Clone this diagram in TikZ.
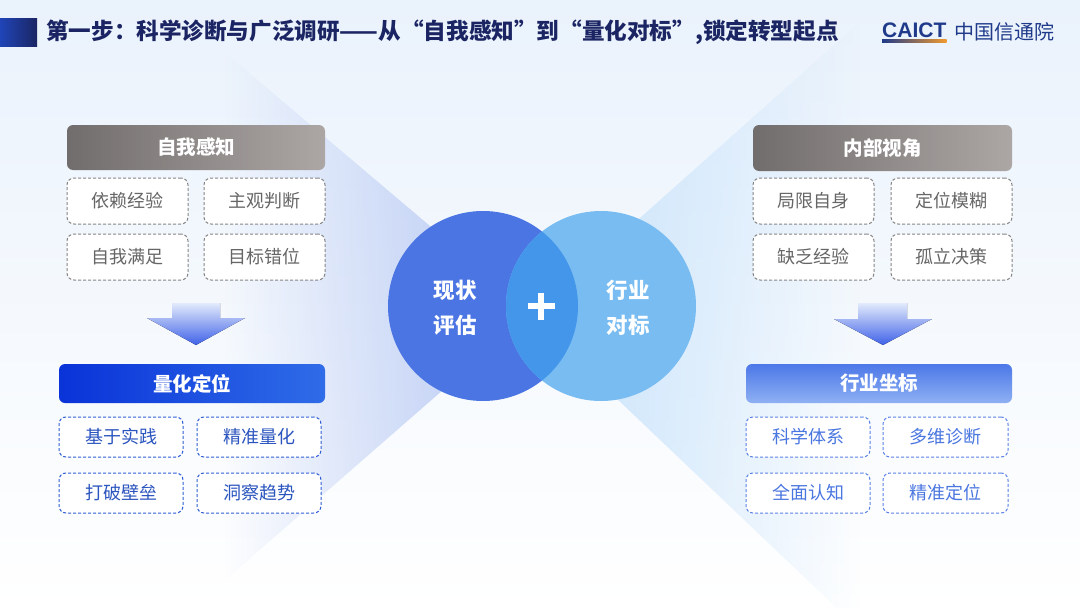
\documentclass[tikz,border=0pt]{standalone}
\usepackage{fontspec}
\setmainfont{Noto Sans CJK SC}
\newfontfamily\latinf{Liberation Sans}
\usetikzlibrary{fadings}
\definecolor{navy}{HTML}{1B2563}
\definecolor{hdrblue}{HTML}{2045B8}
\definecolor{logoblue}{HTML}{1F3A8A}
\definecolor{logoorange}{HTML}{F29A2E}
\definecolor{bgtop}{HTML}{EAF2FC}
\definecolor{grayL}{HTML}{716D6C}
\definecolor{grayR}{HTML}{ACA7A5}
\definecolor{grayline}{HTML}{858585}
\definecolor{graytext}{HTML}{666666}
\definecolor{blueL}{HTML}{0A33D8}
\definecolor{blueR}{HTML}{2F6CE8}
\definecolor{blueline}{HTML}{2F5ED4}
\definecolor{bluetext}{HTML}{2A54BE}
\definecolor{lblueT}{HTML}{4C78E8}
\definecolor{lblueB}{HTML}{8EB0F3}
\definecolor{lblueline}{HTML}{5C82E6}
\definecolor{lbluetext}{HTML}{4A76E0}
\definecolor{circL}{HTML}{4A75E3}
\definecolor{circR}{HTML}{78BCF2}
\definecolor{circM}{HTML}{4396EA}
\definecolor{beamL}{HTML}{B5C7F3}
\definecolor{beamR}{HTML}{C6E2FB}
\definecolor{arrT}{HTML}{E2EAFB}
\definecolor{arrB}{HTML}{3F62E8}
\tikzfading[name=fadeleft, left color=transparent!100, right color=transparent!0]
\tikzfading[name=faderight, left color=transparent!0, right color=transparent!100]
\begin{document}
\begin{tikzpicture}[x=1pt,y=-1pt,
  hdr/.style={rounded corners=6pt, minimum height=#1, inner sep=0pt, text=white,
    font=\fontsize{19.5}{19.5}\selectfont\bfseries},
  graybox/.style={draw=grayline, dash pattern=on 3pt off 2pt, line width=1pt,
    fill=white, rounded corners=7pt, minimum width=121pt, minimum height=46pt,
    inner sep=0pt, text=graytext, font=\fontsize{18}{18}\selectfont},
  bluebox/.style={draw=blueline, dash pattern=on 3pt off 2pt, line width=1pt,
    fill=white, rounded corners=7pt, minimum width=124pt, minimum height=40pt,
    inner sep=0pt, text=bluetext, font=\fontsize{18}{18}\selectfont},
  lbluebox/.style={bluebox, draw=lblueline, text=lbluetext},
  circtext/.style={text=white, font=\fontsize{21.5}{35}\selectfont\bfseries, align=center, inner sep=0pt},
  downarrow/.style={top color=arrT, bottom color=arrB, draw=none}
]
\useasboundingbox (0,0) rectangle (1080,608);
% background
\fill[top color=bgtop, bottom color=white] (0,0) rectangle (1080,608);
% beams
\fill[beamL, path fading=fadeleft] (532,312) -- (225,52) -- (225,580) -- cycle;
\fill[beamR, path fading=faderight] (530,316) -- (860,22) -- (860,630) -- cycle;

% header
\fill[left color=hdrblue, right color=navy] (0,18) rectangle (37,46);
\node[anchor=west, inner sep=0pt, text=navy, font=\fontsize{22.6}{22.6}\selectfont\bfseries] (title) at (46,32)
  {第一步：科学诊断与广泛调研——从“自我感知”到“量化对标”,锁定转型起点};
% logo
\node[anchor=west, inner sep=0pt, text=logoblue, font=\latinf\fontsize{21}{21}\selectfont\bfseries] (caict) at (882,30) {CAICT};
\shade[left color=logoblue, right color=logoorange] ([yshift=-2pt]caict.south west) rectangle ([yshift=-4.5pt]caict.south east);
\node[anchor=west, inner sep=0pt, text=logoblue, font=\fontsize{20}{20}\selectfont] (cn) at (954,32) {中国信通院};

% circles
\fill[circL] (483,306) circle (95);
\fill[circR] (601,306) circle (95);
\begin{scope}
  \clip (483,306) circle (95);
  \fill[circM] (601,306) circle (95);
\end{scope}
\node[circtext] (c1) at (455,308) {现状\\评估};
\node[circtext] (c2) at (628,308) {行业\\对标};
\coordinate (plus) at (541,306);
\draw[white, line width=6.5pt] ([xshift=-13.5pt]plus) -- ([xshift=13.5pt]plus);
\draw[white, line width=6.5pt] ([yshift=-13.5pt]plus) -- ([yshift=13.5pt]plus);

% left panel
\node[hdr=45pt, minimum width=258pt, left color=grayL, right color=grayR] (h1) at (196,147.5) {自我感知};
\node[graybox] (a1) at (127.5,201) {依赖经验};
\node[graybox] (a2) at (264.5,201) {主观判断};
\node[graybox] (a3) at (127.5,257) {自我满足};
\node[graybox] (a4) at (264.5,257) {目标错位};
\fill[downarrow] (172,303) -- (220,303) -- (220,318) -- (245,318) -- (196,345) -- (147,318) -- (172,318) -- cycle;
\node[hdr=39pt, minimum width=266pt, left color=blueL, right color=blueR] (h2) at (192,383.5) {量化定位};
\node[bluebox] (b1) at (121,437) {基于实践};
\node[bluebox] (b2) at (259,437) {精准量化};
\node[bluebox] (b3) at (121,493) {打破壁垒};
\node[bluebox] (b4) at (259,493) {洞察趋势};

% right panel
\node[hdr=46pt, minimum width=259pt, left color=grayL, right color=grayR] (h3) at (882.5,148) {内部视角};
\node[graybox] (d1) at (813.5,201) {局限自身};
\node[graybox] (d2) at (951.5,201) {定位模糊};
\node[graybox] (d3) at (813.5,257) {缺乏经验};
\node[graybox] (d4) at (951.5,257) {孤立决策};
\fill[downarrow] (858,303) -- (907,303) -- (907,319) -- (932,319) -- (883,345) -- (834,319) -- (858,319) -- cycle;
\node[hdr=39pt, minimum width=266pt, top color=lblueT, bottom color=lblueB] (h4) at (879,383.5) {行业坐标};
\node[lbluebox] (e1) at (808,437) {科学体系};
\node[lbluebox, minimum width=125pt] (e2) at (945.5,437) {多维诊断};
\node[lbluebox] (e3) at (808,493) {全面认知};
\node[lbluebox, minimum width=125pt] (e4) at (945.5,493) {精准定位};
\end{tikzpicture}
\end{document}
